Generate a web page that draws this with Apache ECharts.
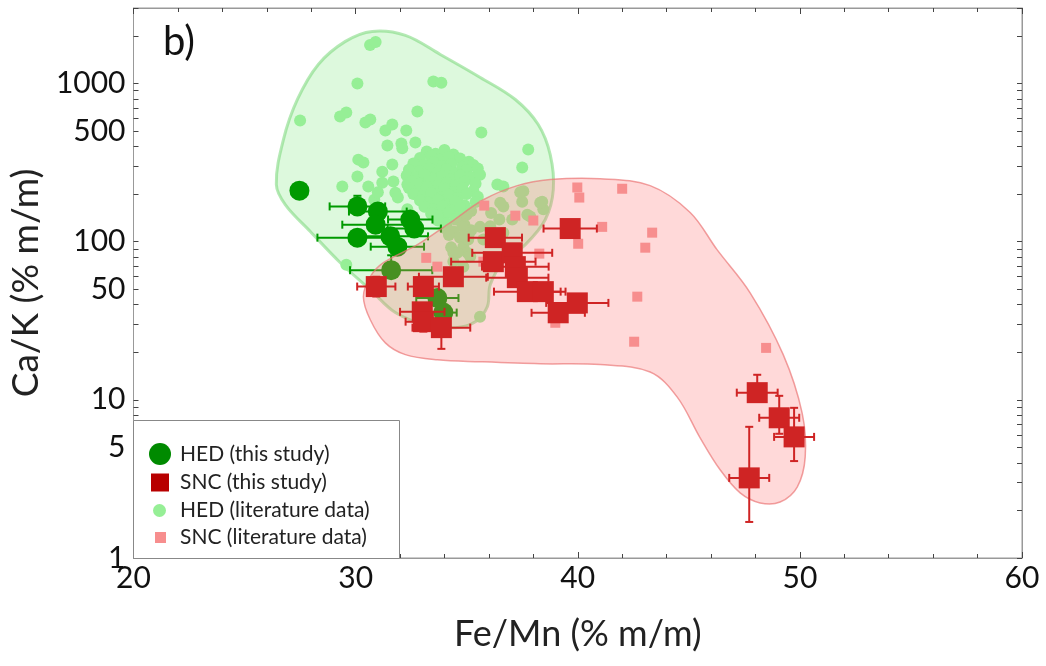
<!DOCTYPE html>
<html>
<head>
<meta charset="utf-8">
<script src="https://cdn.jsdelivr.net/npm/echarts@6/dist/echarts.min.js"></script>
<style>
html, body { margin: 0; padding: 0; background: #fff; }
#chart { width: 1046px; height: 666px; }
</style>
</head>
<body>
<div id="chart"></div>
<script>
// HED / SNC : Ca/K vs Fe/Mn
const xTickLabels = [20, 30, 40, 50, 60]
const yTickLabels = [1, 5, 10, 50, 100, 500, 1000]
const yTicks = [1, 2, 3, 4, 5, 6, 7, 8, 9, 10, 20, 30, 40, 50, 60, 70, 80, 90,
  100, 200, 300, 400, 500, 600, 700, 800, 900, 1000, 2000, 3000]

// [Fe/Mn, Ca/K, xErr, yLow, yHigh]
const hedStudy = [
  [27.47, 210, 0, 210, 210],
  [30.08, 167, 1.25, 150, 195],
  [30.08, 106, 1.8, 97, 118],
  [31.0, 155, 1.3, 140, 172],
  [30.9, 128, 1.5, 118, 138],
  [31.56, 108, 1.7, 98, 120],
  [31.88, 93, 1.2, 85, 102],
  [32.46, 138, 1.0, 125, 150],
  [32.64, 121, 1.2, 112, 132],
  [31.6, 66, 1.85, 60, 82],
  [33.68, 44, 0.95, 40, 49],
  [33.95, 35.6, 0.6, 33, 39]
]

const sncStudy = [
  [30.93, 52, 0.86, 45, 60],
  [33.05, 52, 0.7, 48, 57],
  [34.4, 60, 1.55, 55, 66],
  [33.0, 36, 1.0, 32, 40],
  [33.05, 31.2, 0.8, 27, 34],
  [33.86, 28.6, 1.3, 21, 32],
  [36.29, 106, 1.2, 98, 115],
  [36.2, 74.7, 1.9, 68, 82],
  [37.05, 85, 1.8, 78, 93],
  [37.19, 69.5, 1.5, 63, 76],
  [37.28, 59.2, 1.4, 55, 64],
  [37.73, 48.3, 1.5, 45, 52],
  [38.45, 48.3, 1.0, 45, 52],
  [39.12, 35.5, 1.2, 33, 38],
  [39.98, 41, 1.4, 38, 44],
  [39.66, 121, 1.2, 115, 127],
  [48.08, 11.1, 0.92, 9.7, 14.4],
  [49.07, 7.7, 0.9, 6.1, 10.6],
  [49.74, 5.83, 0.9, 4.1, 8.9],
  [47.72, 3.21, 0.9, 1.69, 6.75]
]

const hedLit = [
  [30.65, 1750], [30.9, 1830], [30.08, 1000], [33.5, 1030], [33.86, 1010],
  [27.5, 583], [29.3, 618], [29.58, 655], [30.44, 566], [30.66, 592], [32.78, 665],
  [31.34, 504], [31.65, 550], [32.28, 504], [35.66, 490], [31.43, 405], [32.06, 417],
  [32.1, 390], [32.69, 423], [37.77, 382], [37.5, 294], [30.12, 330], [30.35, 316],
  [30.08, 258], [31.2, 277], [31.65, 307], [29.4, 223], [30.57, 223], [31.2, 236],
  [31.7, 240], [30.84, 184], [31.79, 204], [32.33, 230], [36.38, 230], [36.65, 223],
  [29.58, 71.5], [31.9, 190], [32.33, 160], [31.0, 205],
  // dense cluster
  [33.2, 372], [33.6, 360], [34.0, 380], [34.4, 355],
  [32.9, 338], [33.4, 345], [33.8, 330], [34.2, 342], [34.7, 335], [35.1, 320],
  [32.6, 312], [33.1, 305], [33.5, 318], [33.9, 300], [34.3, 310], [34.8, 298], [35.3, 305],
  [32.4, 285], [32.9, 280], [33.3, 290], [33.7, 276], [34.1, 286], [34.5, 272], [35.0, 282], [35.5, 290],
  [32.3, 262], [32.7, 255], [33.1, 265], [33.5, 250], [33.9, 258], [34.3, 248], [34.7, 262], [35.2, 255], [35.6, 265],
  [32.5, 240], [32.9, 232], [33.3, 242], [33.7, 228], [34.1, 236], [34.5, 226], [34.9, 240], [35.4, 232],
  [32.4, 218], [32.8, 212], [33.2, 222], [33.6, 208], [34.0, 216], [34.4, 205], [34.8, 218], [35.3, 210],
  [32.6, 200], [33.0, 194], [33.4, 203], [33.8, 190], [34.2, 198], [34.6, 188], [35.0, 200], [35.5, 192],
  [32.9, 182], [33.3, 176], [33.7, 184], [34.1, 172], [34.5, 180], [34.9, 170], [35.4, 178],
  [33.1, 166], [33.5, 160], [33.9, 168], [34.3, 157], [34.7, 164], [35.2, 156],
  [33.4, 150], [33.8, 145], [34.2, 152], [34.6, 142], [35.0, 148],
  [33.7, 136], [34.1, 130], [34.5, 138], [34.9, 128],
  [34.0, 122], [34.4, 116], [34.8, 124], [35.2, 118],
  [34.2, 110], [34.7, 106], [35.1, 112],
  // lower part, inside the SNC field
  [34.85, 93], [35.03, 85], [34.4, 85], [34.4, 75], [34.85, 69.5], [35.6, 33.5],
  [36.1, 152], [36.65, 167], [37.55, 208], [37.5, 179], [37.73, 148], [38.4, 179],
  [38.45, 160], [36.47, 138], [35.6, 124], [36.06, 119], [35.07, 103], [35.75, 103],
  [37.05, 138], [36.65, 114], [34.3, 92], [37.41, 205], [38.31, 176], [36.51, 176],
  [37.86, 144], [36.06, 125], [34.85, 108], [35.16, 80.5], [34.58, 85]
]

const sncLit = [
  [39.98, 220], [40.07, 190], [42.0, 216], [35.79, 169], [37.19, 146], [38.0, 136],
  [41.1, 124], [43.35, 114], [40.02, 97], [43.04, 91.6], [38.27, 84], [42.68, 44.9],
  [38.99, 30.7], [42.54, 23.3], [48.48, 21.3], [35.75, 74.7], [33.18, 79], [33.68, 69.5]
]

// outline of the two fields
const hedField = [
  [26.43, 230], [26.75, 442], [27.38, 792], [28.32, 1319], [29.54, 1845], [30.75, 2134],
  [32.24, 2013], [33.81, 1526], [35.61, 1092], [37.19, 792], [38.22, 550], [38.76, 355],
  [38.9, 213], [38.54, 138], [37.64, 95.7], [36.65, 74.7], [36.06, 53.4], [35.93, 38.8],
  [35.39, 31.2], [34.49, 28.6], [33.14, 29.8], [31.79, 35.6], [30.66, 49.7], [29.31, 73.6],
  [27.96, 116], [26.84, 171]
]
const sncField = [
  [30.35, 44.9], [30.66, 60], [31.25, 73.6], [32.78, 95.7], [34.26, 132], [35.75, 184],
  [37.28, 226], [38.76, 247], [41.01, 250], [43.26, 226], [45.06, 153], [46.27, 89],
  [47.76, 47.5], [49.25, 19.3], [50.1, 8.27], [50.24, 4.36], [49.88, 2.81], [49.11, 2.26],
  [48.21, 2.23], [47.31, 2.58], [46.41, 3.61], [45.51, 5.75], [44.48, 10.4], [43.26, 15.0],
  [41.01, 16.7], [38.31, 16.9], [35.61, 17.4], [33.68, 17.9], [32.24, 19.3], [31.34, 22.9],
  [30.66, 32.1]
]

const FONT = 'Lato'
const GREEN = '#009a00'
const RED = '#cf2424'
const LGREEN = '#96ef96'
const PINK = '#f78e8e'

const chart = echarts.init(document.getElementById('chart'))

const fieldSeries = (pts, fill, stroke, width, z) => ({
  type: 'custom', silent: true, z, clip: true,
  data: pts, encode: { x: 0, y: 1 },
  renderItem: (params, api) => {
    if (params.dataIndex !== 0) return
    return {
      type: 'polygon',
      shape: { points: pts.map(p => api.coord(p)), smooth: 0.35 },
      style: { fill, stroke, lineWidth: width }
    }
  }
})

const errSeries = (rows, color, z) => ({
  type: 'custom', silent: true, z, clip: true,
  data: rows, encode: { x: 0, y: 1 },
  renderItem: (params, api) => {
    const x = api.value(0), y = api.value(1), xe = api.value(2), lo = api.value(3), hi = api.value(4)
    const c = 4
    const st = { stroke: color, lineWidth: 2 }
    const kids = []
    const seg = (x1, y1, x2, y2) => kids.push({ type: 'line', shape: { x1, y1, x2, y2 }, style: st })
    if (xe > 0) {
      const a = api.coord([x - xe, y]), b = api.coord([x + xe, y])
      seg(a[0], a[1], b[0], b[1]); seg(a[0], a[1] - c, a[0], a[1] + c); seg(b[0], b[1] - c, b[0], b[1] + c)
    }
    if (hi > lo) {
      const a = api.coord([x, lo]), b = api.coord([x, hi])
      seg(a[0], a[1], b[0], b[1]); seg(a[0] - c, a[1], a[0] + c, a[1]); seg(b[0] - c, b[1], b[0] + c, b[1])
    }
    return { type: 'group', children: kids }
  }
})

const xAxisBase = {
  type: 'value', min: 20, max: 60, interval: 10,
  axisLine: { lineStyle: { color: '#999' } },
  axisTick: { inside: true, length: 6, lineStyle: { color: '#444' } },
  minorTick: { show: true, splitNumber: 5, length: 4, lineStyle: { color: '#444' } },
  splitLine: { show: false }
}
const yAxisBase = {
  type: 'log', logBase: 10, min: 1, max: 3000,
  axisLine: { lineStyle: { color: '#999' } },
  axisTick: { inside: true, length: 5, customValues: yTicks, lineStyle: { color: '#444' } },
  splitLine: { show: false }
}

const legendItem = (name, icon, color, size, top, left) => ({
  data: [{ name, icon, itemStyle: { color, opacity: 1 } }], orient: 'vertical', left, top, z: 20,
  itemWidth: size, itemHeight: size, selectedMode: false,
  textStyle: { fontFamily: FONT, fontSize: 21, color: '#222', padding: [0, 0, 0, 180 - left - size - 5 - 5] }
})

chart.setOption({
  animation: false,
  grid: { left: 133, right: 24, top: 8, bottom: 108, show: true, borderColor: '#999', borderWidth: 1 },
  xAxis: [
    {
      ...xAxisBase, position: 'bottom',
      name: 'Fe/Mn (% m/m)', nameLocation: 'middle', nameGap: 58,
      nameTextStyle: { fontFamily: FONT, fontSize: 36, color: '#222' },
      axisLabel: { customValues: xTickLabels, fontFamily: FONT, fontSize: 30, color: '#111', margin: 5 }
    },
    { ...xAxisBase, position: 'top', axisLabel: { show: false } }
  ],
  yAxis: [
    {
      ...yAxisBase, position: 'left',
      name: 'Ca/K (% m/m)', nameLocation: 'middle', nameGap: 86,
      nameTextStyle: { fontFamily: FONT, fontSize: 37, color: '#222' },
      axisLabel: { customValues: yTickLabels, formatter: v => String(v), fontFamily: FONT, fontSize: 30, color: '#111', margin: 8 }
    },
    { ...yAxisBase, position: 'right', axisLabel: { show: false } }
  ],
  legend: [
    legendItem('HED (this study)', 'circle', '#008a00', 22, 438, 144),
    legendItem('SNC (this study)', 'rect', '#b80000', 18, 467, 146),
    legendItem('HED (literature data)', 'circle', LGREEN, 13, 495, 148),
    legendItem('SNC (literature data)', 'rect', PINK, 11, 522, 150)
  ],
  graphic: [
    { type: 'rect', left: 133, top: 420, z: 10, shape: { width: 266, height: 138 },
      style: { fill: '#fff', stroke: '#888', lineWidth: 1 } },
    { type: 'text', left: 163, top: 22, z: 10,
      style: { text: 'b)', font: '40px Lato', fill: '#111' } }
  ],
  series: [
    fieldSeries(hedField, 'rgba(120,230,120,0.25)', 'rgba(120,215,120,0.55)', 3, 1),
    { name: 'HED (literature data)', type: 'scatter', z: 2, symbol: 'circle', symbolSize: 12,
      itemStyle: { color: LGREEN, opacity: 1 }, data: hedLit },
    errSeries(hedStudy, GREEN, 3),
    { name: 'HED (this study)', type: 'scatter', z: 3, symbol: 'circle', symbolSize: 20,
      itemStyle: { color: GREEN, opacity: 1 }, data: hedStudy.map(d => [d[0], d[1]]) },
    fieldSeries(sncField, 'rgba(255,120,120,0.28)', 'rgba(235,120,120,0.7)', 1.5, 4),
    { name: 'SNC (literature data)', type: 'scatter', z: 5, symbol: 'rect', symbolSize: 10,
      itemStyle: { color: PINK, opacity: 1 }, data: sncLit },
    errSeries(sncStudy, RED, 6),
    { name: 'SNC (this study)', type: 'scatter', z: 6, symbol: 'rect', symbolSize: 21,
      itemStyle: { color: RED, opacity: 1 }, data: sncStudy.map(d => [d[0], d[1]]) }
  ]
})
</script>
</body>
</html>
